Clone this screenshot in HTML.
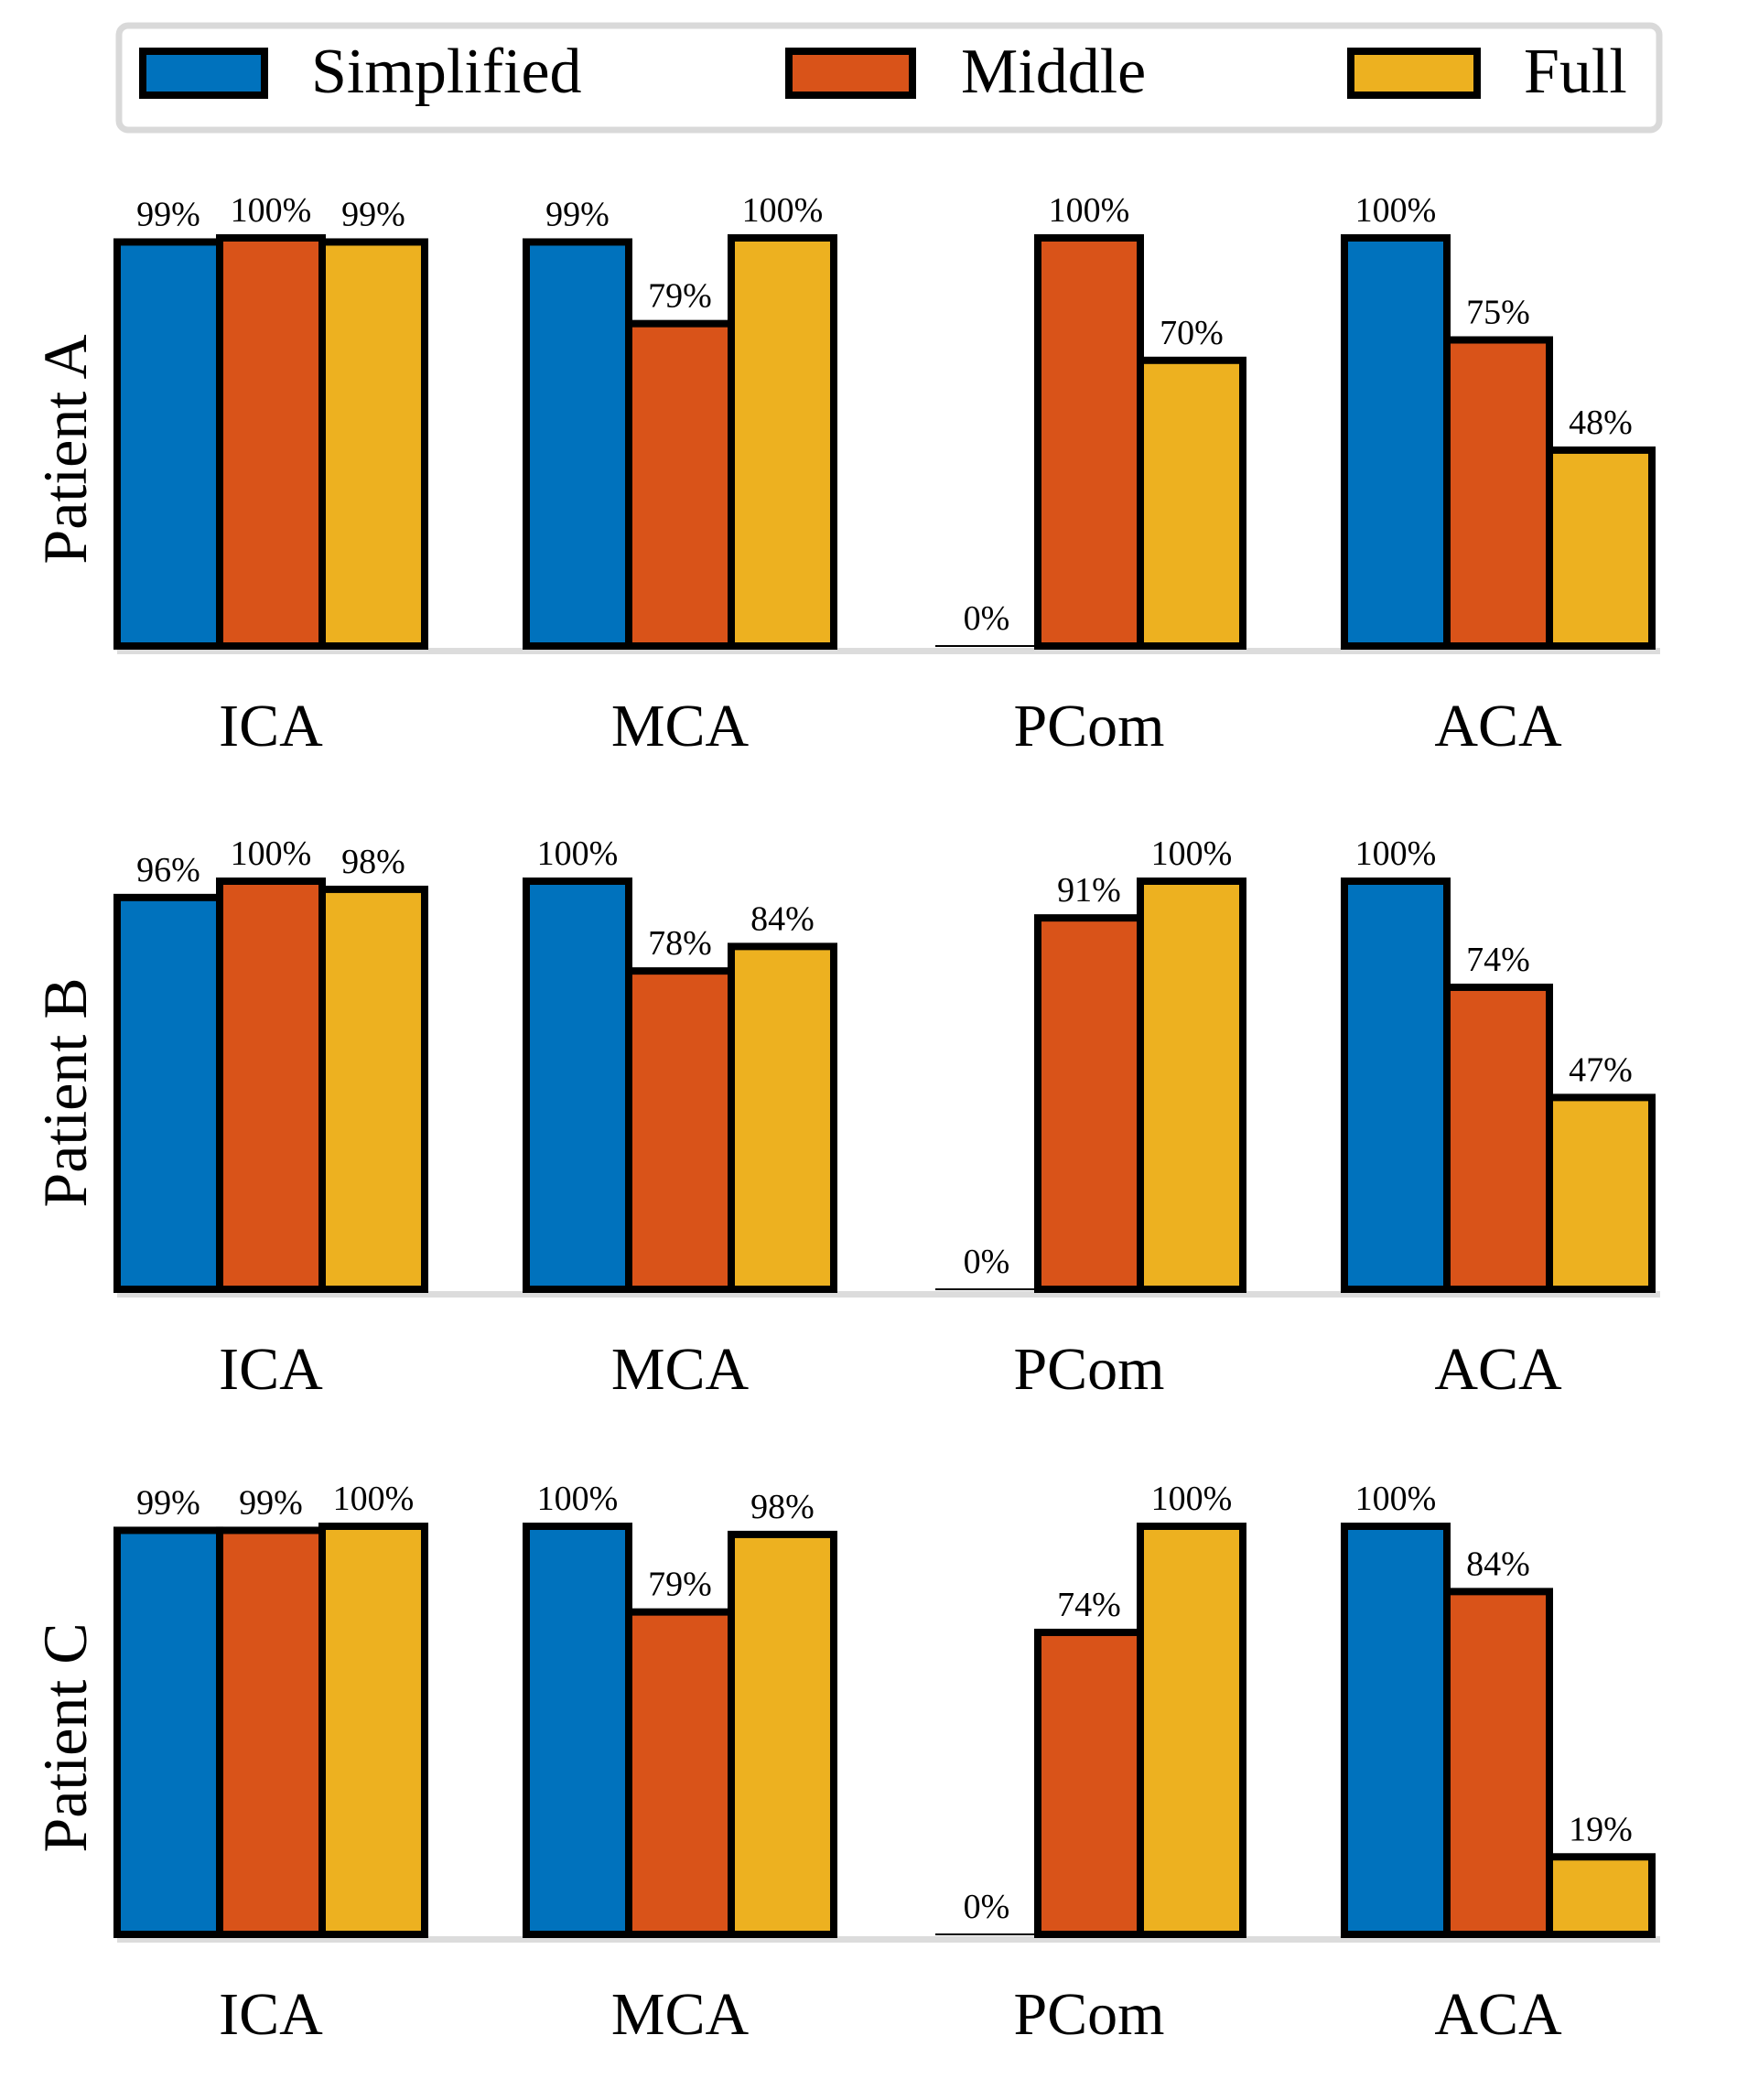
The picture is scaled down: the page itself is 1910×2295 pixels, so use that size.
<!DOCTYPE html>
<html><head><meta charset="utf-8">
<style>
html,body{margin:0;padding:0;background:#fff;}
svg{display:block;font-family:"Liberation Serif",serif;}
</style></head>
<body>
<svg id="chart" width="1910" height="2295" viewBox="0 0 1910 2295" xmlns="http://www.w3.org/2000/svg">
  <g>
    <rect x="130" y="28" width="1683" height="114" rx="10" fill="#fff" stroke="#d9d9d9" stroke-width="7"/>
    <rect x="156" y="56" width="133" height="48" fill="#0072BD" stroke="#000" stroke-width="8"/>
    <text x="340" y="101" font-size="70">Simplified</text>
    <rect x="862" y="56" width="135" height="48" fill="#D95319" stroke="#000" stroke-width="8"/>
    <text x="1050" y="101" font-size="70">Middle</text>
    <rect x="1476" y="56" width="138" height="48" fill="#EDB120" stroke="#000" stroke-width="8"/>
    <text x="1665" y="101" font-size="70">Full</text>
  </g>
  <g id="panels"></g>
</svg>
<script>
const categories = ["ICA","MCA","PCom","ACA"];
const patients = ["Patient A","Patient B","Patient C"];
const seriesNames = ["Simplified","Middle","Full"];
const simplifiedA = [99,99,0,100];
const middleA = [100,79,100,75];
const fullA = [99,100,70,48];
const simplifiedB = [96,100,0,100];
const middleB = [100,78,91,74];
const fullB = [98,84,100,47];
const simplifiedC = [99,100,0,100];
const middleC = [99,79,74,84];
const fullC = [100,98,100,19];
const panelData = [[simplifiedA,middleA,fullA],[simplifiedB,middleB,fullB],[simplifiedC,middleC,fullC]];
const colors = ["#0072BD","#D95319","#EDB120"];

const NS = "http://www.w3.org/2000/svg";
const g = document.getElementById("panels");
const baselines = [706, 1409, 2114];
const plotH = 446;
const groupStart = [128, 575, 1022, 1469];
const barW = 112;
function yScale(v, base){ return base - v/100*plotH; }
function xScale(ci, si){ return groupStart[ci] + si*barW; }
function mk(tag, attrs){ const e=document.createElementNS(NS,tag); for(const k in attrs) e.setAttribute(k,attrs[k]); return e; }

panelData.forEach((series, pi) => {
  const base = baselines[pi];
  const pg = mk("g", {});
  
  
  g.appendChild(pg);
  const axis = mk("rect", {x:128, y:base+2, width:1686, height:7, fill:"#dcdcdc"});
  
  
  pg.appendChild(axis);
  const yl = mk("text", {x:0, y:0, "font-size":68, "text-anchor":"middle", transform:"translate(94," + (base-plotH/2+8) + ") rotate(-90)"});
  yl.textContent = patients[pi];
  
  
  pg.appendChild(yl);
  categories.forEach((cat, ci) => {
    series.forEach((vals, si) => {
      const v = vals[ci];
      const x = xScale(ci, si);
      const y = yScale(v, base);
      let bar;
      if (v > 0) {
        bar = mk("rect", {x:x, y:y, width:barW, height:base-y, fill:colors[si], stroke:"#000", "stroke-width":8});
      } else {
        bar = mk("line", {x1:x, x2:x+barW, y1:base, y2:base, stroke:"#000", "stroke-width":2});
      }
      
      
      pg.appendChild(bar);
      const t = mk("text", {x:x+barW/2, y:y-18, "font-size":38, "text-anchor":"middle"});
      t.textContent = v + "%";
      
      
      pg.appendChild(t);
    });
    const cl = mk("text", {x:groupStart[ci]+1.5*barW, y:base+109, "font-size":66, "text-anchor":"middle"});
    cl.textContent = cat;
    
    
    pg.appendChild(cl);
  });
});
</script>
</body></html>
